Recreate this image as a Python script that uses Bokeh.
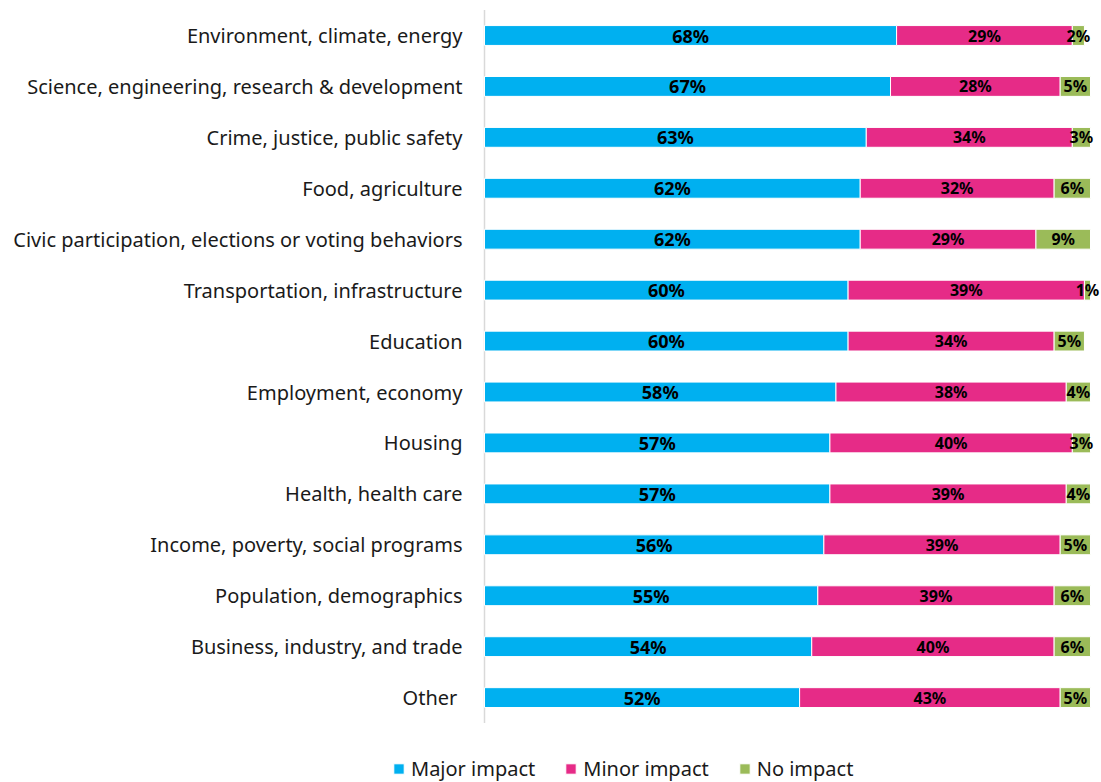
from bokeh.plotting import figure
from bokeh.models import ColumnDataSource, Range1d
from bokeh.core.properties import value
from bokeh.embed import file_html
from bokeh.resources import INLINE

categories = [
    "Environment, climate, energy",
    "Science, engineering, research & development",
    "Crime, justice, public safety",
    "Food, agriculture",
    "Civic participation, elections or voting behaviors",
    "Transportation, infrastructure",
    "Education",
    "Employment, economy",
    "Housing",
    "Health, health care",
    "Income, poverty, social programs",
    "Population, demographics",
    "Business, industry, and trade",
    "Other ",
]
major = [68, 67, 63, 62, 62, 60, 60, 58, 57, 57, 56, 55, 54, 52]
minor = [29, 28, 34, 32, 29, 39, 34, 38, 40, 39, 39, 39, 40, 43]
no_impact = [2, 5, 3, 6, 9, 1, 5, 4, 3, 4, 5, 6, 6, 5]
series = ["Major impact", "Minor impact", "No impact"]
colors = ["#00B0F0", "#E62B87", "#9BBB59"]

FONT = "Noto Sans"
W, H = 1101, 782
X0_PX = 484          # pixel where 0% sits
PX_PER_PCT = 6.06
Y_TOP_PX = 35        # centre of first row
ROW_PX = 50.93

n = len(categories)
pos = list(range(n))

src = ColumnDataSource(dict(
    y=pos,
    cat=categories,
    major=major,
    minor=minor,
    no=no_impact,
    major_x=[m / 2 for m in major],
    minor_x=[m + k / 2 for m, k in zip(major, minor)],
    no_x=[m + k + o / 2 for m, k, o in zip(major, minor, no_impact)],
    major_t=[f"{v}%" for v in major],
    minor_t=[f"{v}%" for v in minor],
    no_t=[f"{v}%" for v in no_impact],
    zero=[0] * n,
))

x_range = Range1d(-X0_PX / PX_PER_PCT, (W - X0_PX) / PX_PER_PCT)
y_range = Range1d((H - Y_TOP_PX) / ROW_PX, -Y_TOP_PX / ROW_PX)

p = figure(
    width=W, height=H, x_range=x_range, y_range=y_range,
    output_backend="svg", toolbar_location=None,
    min_border=0, min_border_left=0, min_border_right=0,
    min_border_top=0, min_border_bottom=0,
)
p.xaxis.visible = False
p.yaxis.visible = False
p.xgrid.visible = False
p.ygrid.visible = False
p.outline_line_color = None

# vertical axis line
p.segment(x0=[0], x1=[0], y0=[-0.5], y1=[n - 0.5],
          line_color="#D9D9D9", line_width=1.5)

p.hbar_stack(["major", "minor", "no"], y="y", height=0.39, source=src,
             color=colors, line_color="white", line_width=1,
             legend_label=series)

# category labels
p.text(x="zero", y="y", text="cat", source=src, x_offset=-22,
       text_align="right", text_baseline="middle",
       text_font=value(FONT), text_font_size="20px", text_color="#1a1a1a")

p.text(x="major_x", y="y", text="major_t", source=src,
       text_align="center", text_baseline="middle",
       text_font=value(FONT), text_font_style="bold", text_font_size="18px",
       text_color="black")
p.text(x="minor_x", y="y", text="minor_t", source=src,
       text_align="center", text_baseline="middle",
       text_font=value(FONT), text_font_style="bold", text_font_size="16px",
       text_color="black")
p.text(x="no_x", y="y", text="no_t", source=src,
       text_align="center", text_baseline="middle",
       text_font=value(FONT), text_font_style="bold", text_font_size="16px",
       text_color="black")

lg = p.legend[0]
lg.orientation = "horizontal"
lg.location = (392, 0)
lg.border_line_color = None
lg.background_fill_alpha = 0
lg.padding = 0
lg.margin = 0
lg.spacing = 29
lg.glyph_width = 13
lg.glyph_height = 13
lg.label_standoff = 6
lg.label_text_font = FONT
lg.label_text_font_size = "20px"
lg.label_text_color = "#1a1a1a"

open("out.html", "w").write(file_html(p, INLINE))
